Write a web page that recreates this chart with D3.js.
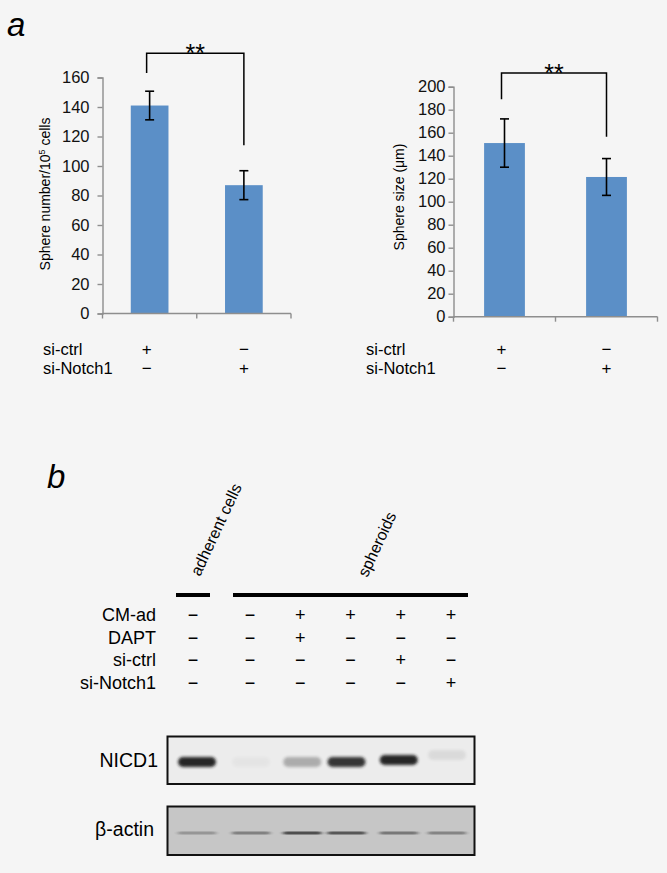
<!DOCTYPE html>
<html><head><meta charset="utf-8">
<script src="https://cdn.jsdelivr.net/npm/d3@7/dist/d3.min.js"></script>
<style>
html,body{margin:0;padding:0;background:#f5f5f5;}
svg{display:block;font-family:"Liberation Sans",Arial,Helvetica,sans-serif;}
</style>
</head><body>
<svg id="c" width="667" height="873"></svg>
<script>
// ---------- data ----------
const categories = ["si-ctrl", "si-Notch1"];
const sphereNumber = [141, 87];
const sphereNumberErr = [9.7, 9.8];
const sphereSize = [151, 121.5];
const sphereSizeErr = [21, 16];
const numberTicks = [0, 20, 40, 60, 80, 100, 120, 140, 160];
const sizeTicks = [0, 20, 40, 60, 80, 100, 120, 140, 160, 180, 200];
const treatRows = ["si-ctrl", "si-Notch1"];
const treatSigns = [["+", "−"], ["−", "+"]];
const sigNumber = { bar: 176.5, ends: [163, 114] };
const sigSize = { bar: 212, ends: [189, 156.5] };

const laneGroups = ["adherent cells", "spheroids"];
const laneGroupOf = [0, 1, 1, 1, 1, 1];
const blotRows = ["CM-ad", "DAPT", "si-ctrl", "si-Notch1"];
const blotSigns = [
  ["−", "−", "+", "+", "+", "+"],
  ["−", "−", "+", "−", "−", "−"],
  ["−", "−", "−", "−", "+", "−"],
  ["−", "−", "−", "−", "−", "+"]
];
const nicd1 = [0.95, 0.03, 0.3, 0.88, 0.95, 0.08];
const actin = [0.28, 0.4, 0.7, 0.65, 0.45, 0.38];
const blotLabels = ["NICD1", "β-actin"];

// ---------- drawing ----------
const svg = d3.select("#c");
const FONT = '"Liberation Sans",Arial,sans-serif';
const BAR = "#5b8fc7";
const AXIS = "#8e8e8e";

const defs = svg.append("defs");
defs.append("filter").attr("id", "blur").attr("x", "-30%").attr("y", "-100%").attr("width", "160%").attr("height", "300%")
  .append("feGaussianBlur").attr("stdDeviation", "1.8 1.5");
defs.append("filter").attr("id", "blur2").attr("x", "-30%").attr("y", "-200%").attr("width", "160%").attr("height", "500%")
  .append("feGaussianBlur").attr("stdDeviation", "2 0.7");

svg.append("text").attr("x", 7).attr("y", 36).attr("font-size", 33).attr("font-style", "italic").text("a");
svg.append("text").attr("x", 47).attr("y", 488).attr("font-size", 33).attr("font-style", "italic").text("b");

function barChart(o) {
  const g = svg.append("g");
  const x = d3.scaleBand().domain(categories).range([o.x0, o.x1]).paddingInner(0.6).paddingOuter(0.3);
  const y = d3.scaleLinear().domain([0, o.max]).range([o.y0, o.y1]);
  g.selectAll("rect.bar").data(o.values).join("rect")
    .attr("x", (d, i) => x(categories[i])).attr("width", x.bandwidth())
    .attr("y", d => y(d)).attr("height", d => y(0) - y(d)).attr("fill", BAR);
  const ya = g.append("g").attr("transform", `translate(${o.x0},0)`)
    .call(d3.axisLeft(y).tickValues(o.ticks).tickSize(5).tickPadding(o.pad).tickFormat(d3.format("d")));
  ya.select(".domain").attr("stroke", AXIS).attr("stroke-width", 1.4);
  ya.selectAll(".tick line").attr("stroke", AXIS).attr("stroke-width", 1.4);
  ya.selectAll(".tick text").attr("font-size", 16.5).attr("font-family", FONT).attr("fill", "#111");
  g.append("line").attr("x1", o.x0).attr("x2", o.x1).attr("y1", y(0)).attr("y2", y(0)).attr("stroke", AXIS).attr("stroke-width", 1.4);
  const bounds = [o.x0, x(categories[1]) - x.step() * 0.3, o.x1];
  g.selectAll("line.xt").data(bounds).join("line")
    .attr("x1", d => d).attr("x2", d => d).attr("y1", y(0)).attr("y2", y(0) + 5).attr("stroke", AXIS).attr("stroke-width", 1.4);
  const cx = i => x(categories[i]) + x.bandwidth() / 2;
  o.values.forEach((v, i) => {
    const e = o.errs[i];
    g.append("line").attr("x1", cx(i)).attr("x2", cx(i)).attr("y1", y(v + e)).attr("y2", y(v - e)).attr("stroke", "#000").attr("stroke-width", 1.6);
    [v + e, v - e].forEach(t => g.append("line").attr("x1", cx(i) - 4.5).attr("x2", cx(i) + 4.5).attr("y1", y(t)).attr("y2", y(t)).attr("stroke", "#000").attr("stroke-width", 1.6));
  });
  const lx = cx(0) - o.sigShift, rx = cx(1);
  g.append("path").attr("d", `M${lx},${y(o.sig.ends[0])}V${y(o.sig.bar)}H${rx}V${y(o.sig.ends[1])}`)
    .attr("fill", "none").attr("stroke", "#000").attr("stroke-width", 1.5);
  g.append("text").attr("x", (lx + rx) / 2).attr("y", y(o.sig.bar) + 9).attr("text-anchor", "middle")
    .attr("font-size", 25).text("**");
  const lab = g.append("text").attr("transform", `translate(${o.labX},${o.labY}) rotate(-90)`)
    .attr("text-anchor", "middle").attr("font-size", 14);
  o.label(lab);
  treatRows.forEach((r, ri) => {
    const by = o.rowY + ri * 19;
    g.append("text").attr("x", o.rowLabX).attr("y", by).attr("font-size", 16.5).text(r);
    treatSigns[ri].forEach((s, ci) => g.append("text").attr("x", cx(ci) - o.sigShift * (ci === 0 ? 1 : 0)).attr("y", by)
      .attr("text-anchor", "middle").attr("font-size", 17).text(s));
  });
}

barChart({
  x0: 102.5, x1: 291, y0: 313.5, y1: 77.5, max: 160, ticks: numberTicks, pad: 8,
  values: sphereNumber, errs: sphereNumberErr, sig: sigNumber, sigShift: 3,
  labX: 50, labY: 194, rowLabX: 43, rowY: 355,
  label: t => { t.append("tspan").text("Sphere number/10"); t.append("tspan").attr("font-size", 9).attr("dy", -5).text("5"); t.append("tspan").attr("dy", 5).text(" cells"); }
});
barChart({
  x0: 453.5, x1: 657.5, y0: 316.7, y1: 86.7, max: 200, ticks: sizeTicks, pad: 3,
  values: sphereSize, errs: sphereSizeErr, sig: sigSize, sigShift: 3,
  labX: 404, labY: 197, rowLabX: 366, rowY: 355,
  label: t => t.text("Sphere size (μm)")
});

// ---------- panel b ----------
const sph = d3.scalePoint().domain([1, 2, 3, 4, 5]).range([250, 451]);
const laneX = i => i === 0 ? sph(1) - 57 : sph(i);
const lanes = d3.range(6);

const groupSpan = laneGroups.map((g, gi) => {
  const ls = lanes.filter(l => laneGroupOf[l] === gi);
  return [laneX(ls[0]) - 17, laneX(ls[ls.length - 1]) + 17];
});
svg.selectAll("rect.grp").data(groupSpan).join("rect")
  .attr("x", d => d[0]).attr("width", d => d[1] - d[0]).attr("y", 593).attr("height", 4).attr("fill", "#000");
svg.append("text").attr("transform", `translate(${laneX(0) + 7},577) rotate(-65)`).attr("font-size", 16).text(laneGroups[0]);
svg.append("text").attr("transform", `translate(${laneX(2) + 67},578) rotate(-65)`).attr("font-size", 16).text(laneGroups[1]);

blotRows.forEach((r, ri) => {
  const by = 621 + ri * 22.5;
  svg.append("text").attr("x", 156).attr("y", by).attr("text-anchor", "end").attr("font-size", 18).text(r);
  blotSigns[ri].forEach((s, li) => svg.append("text").attr("x", laneX(li)).attr("y", by)
    .attr("text-anchor", "middle").attr("font-size", 18).text(s));
});

const boxX0 = 167.5, boxX1 = 474.5;
const boxes = [{ y: 736.5, h: 47.5, fill: "#ececec", data: nicd1, cy: 762, bh: 10, f: "url(#blur)" },
               { y: 806.5, h: 48.5, fill: "#c6c6c6", data: actin, cy: 833, bh: 3, f: "url(#blur2)" }];
const bandOffset = [4, 1, 2, -4, -2, -4];
boxes.forEach((b, bi) => {
  svg.append("rect").attr("x", boxX0).attr("y", b.y).attr("width", boxX1 - boxX0).attr("height", b.h)
    .attr("fill", b.fill).attr("stroke", "#111").attr("stroke-width", 2);
  const cg = svg.append("g");
  cg.selectAll("rect").data(b.data).join("rect")
    .attr("x", (d, i) => laneX(i) + bandOffset[i] - 19).attr("width", 38)
    .attr("y", (d, i) => b.cy - b.bh / 2 - (bi === 0 && i === 5 ? 7 : 0) - (bi === 0 && i === 4 ? 2 : 0))
    .attr("height", b.bh).attr("rx", b.bh / 2)
    .attr("fill", "#1a1a1a").attr("opacity", d => d).attr("filter", b.f);
  svg.append("text").attr("x", bi === 0 ? 158 : 154).attr("y", bi === 0 ? 767 : 836).attr("text-anchor", "end")
    .attr("font-size", 19.5).text(blotLabels[bi]);
});
</script>
</body></html>
